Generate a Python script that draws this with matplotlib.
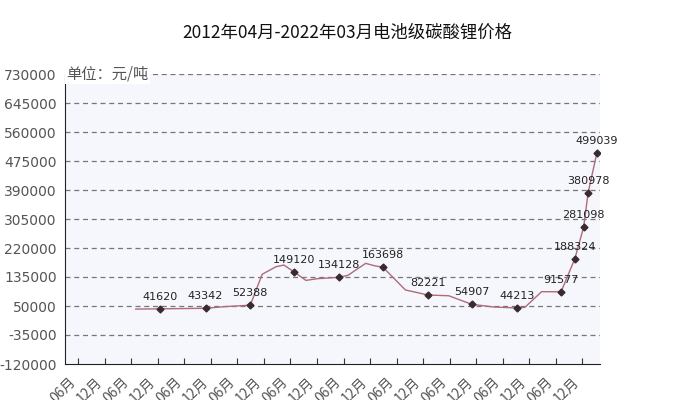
import numpy as np
import matplotlib
matplotlib.use("Agg")
import matplotlib.pyplot as plt

plt.rcParams["font.family"] = ["Noto Sans CJK SC", "DejaVu Sans"]

# months counted from 2012-03 (0); curve points
line_m = [16, 21.5, 31.8, 36, 41.9, 44.6, 47.7, 49.5, 51.9, 54.5, 57, 62, 64,
          68, 70, 71.9, 77, 82.1, 86.8, 92, 97, 102.2, 104, 107.8, 112.2,
          115.3, 117.3, 118.3, 120.3]
line_v = [41000, 41620, 43342, 48000, 52388, 143000, 165000, 170000, 149120,
          125000, 130000, 134128, 140000, 175000, 168000, 163698, 97000,
          82221, 80000, 54907, 47000, 44213, 46000, 92000, 91577, 188324,
          281098, 380978, 499039]
mark_m = [21.5, 31.8, 41.9, 51.9, 62, 71.9, 82.1, 92, 102.2, 112.2, 115.3,
          117.3, 118.3, 120.3]
mark_v = [41620, 43342, 52388, 149120, 134128, 163698, 82221, 54907, 44213,
          91577, 188324, 281098, 380978, 499039]
y_ticks = [-120000, -35000, 50000, 135000, 220000, 305000, 390000, 475000,
           560000, 645000, 730000]
x_ticks = [3 + 6 * i for i in range(20)]
x_labels = ["06月" if i % 2 == 0 else "12月" for i in range(20)]

fig = plt.figure(figsize=(6.95, 4.0), dpi=100)
ax = fig.add_axes([65 / 695, 1 - 364 / 400, 535 / 695, 290 / 400])
ax.set_facecolor("#f5f7fc")
ax.set_xlim(0, 121)
ax.set_ylim(-120000, 730000)

ax.plot(line_m, line_v, color="#b06a7a", lw=1.0)
ax.plot(mark_m, mark_v, "D", color="#3a2a30", ms=3.5, ls="none")
for m, v in zip(mark_m, mark_v):
    ax.annotate(str(v), (m, v), xytext=(0, 5), textcoords="offset points",
                ha="center", va="bottom", fontsize=8, color="#222222",
                family="DejaVu Sans")

ax.set_yticks(y_ticks)
ax.set_yticklabels([str(t) for t in y_ticks], fontsize=10, color="#555555",
                   family="DejaVu Sans")
ax.set_xticks(x_ticks)
ax.set_xticklabels(x_labels, rotation=45, ha="right", fontsize=10,
                   color="#555555")
for t in y_ticks[1:]:
    ax.axhline(t, color="#777777", lw=0.9, ls=(0, (4, 3)), zorder=0)
ax.tick_params(axis="y", length=0, pad=6)
ax.tick_params(axis="x", length=4, direction="in", color="#333333", pad=8)
for s in ("top", "right"):
    ax.spines[s].set_visible(False)
for s in ("left", "bottom"):
    ax.spines[s].set_color("#222222")

ax.text(0.002, 730000, "单位：元/吨", transform=ax.get_yaxis_transform(),
        fontsize=11, color="#555555", va="center", ha="left",
        bbox=dict(facecolor="white", edgecolor="none", pad=1))
fig.text(0.5, 0.895, "2012年04月-2022年03月电池级碳酸锂价格", ha="center",
         va="bottom", fontsize=12.5, color="#111111")

fig.savefig("out.png", dpi=100)
